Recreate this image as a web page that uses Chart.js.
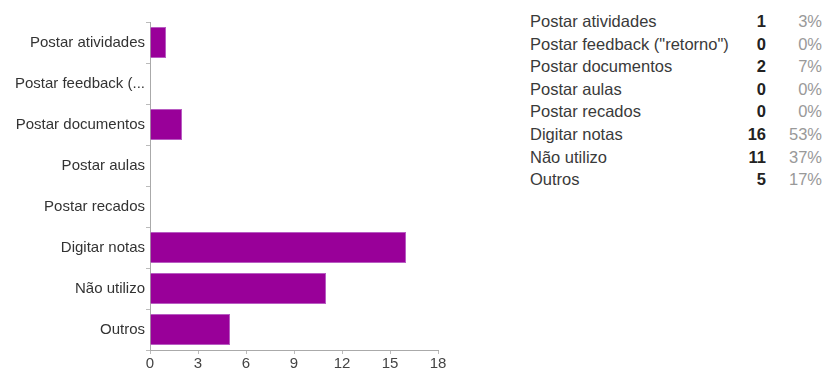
<!DOCTYPE html>
<html>
<head>
<meta charset="utf-8">
<script src="https://cdn.jsdelivr.net/npm/chart.js@4/dist/chart.umd.min.js"></script>
<style>
  html, body { margin: 0; padding: 0; background: #fff; }
  body { width: 825px; height: 374px; position: relative; overflow: hidden;
         font-family: "Liberation Sans", Arial, sans-serif; }
  #chartBox { position: absolute; left: 0; top: 0; width: 450px; height: 374px; }
  #summary { position: absolute; left: 530px; top: 10px; border-collapse: collapse;
             font-size: 16.5px; color: #3a3a3a; }
  #summary td { height: 22.6px; padding: 0; line-height: 22.6px; white-space: nowrap; }
  #summary td.name { width: 205px; }
  #summary td.count { width: 31px; text-align: right; font-weight: bold; color: #222; }
  #summary td.pct { width: 56px; text-align: right; color: #999; }
</style>
</head>
<body>
<div id="chartBox"><canvas id="chart" width="450" height="374"></canvas></div>
<table id="summary"><tbody></tbody></table>
<script>
// Axis labels (shortened as shown beside the bars) and full answer names
const categories = ["Postar atividades", "Postar feedback (...", "Postar documentos", "Postar aulas",
                    "Postar recados", "Digitar notas", "Não utilizo", "Outros"];
const answerNames = ["Postar atividades", "Postar feedback (\"retorno\")", "Postar documentos", "Postar aulas",
                     "Postar recados", "Digitar notas", "Não utilizo", "Outros"];
const counts = [1, 0, 2, 0, 0, 16, 11, 5];
const percents = ["3%", "0%", "7%", "0%", "0%", "53%", "37%", "17%"];
const xTicks = [0, 3, 6, 9, 12, 15, 18];

// Summary table on the right
const tbody = document.querySelector("#summary tbody");
answerNames.forEach((name, i) => {
  const tr = document.createElement("tr");
  tr.innerHTML = `<td class="name"></td><td class="count"></td><td class="pct"></td>`;
  tr.children[0].textContent = name;
  tr.children[1].textContent = counts[i];
  tr.children[2].textContent = percents[i];
  tbody.appendChild(tr);
});

const font = { family: "'Liberation Sans', Arial, sans-serif", size: 15 };

new Chart(document.getElementById("chart"), {
  type: "bar",
  data: {
    labels: categories,
    datasets: [{
      data: counts,
      backgroundColor: "#990099",
      borderColor: "#b85cc2",
      borderWidth: 1,
      barPercentage: 0.76,
      categoryPercentage: 1.0
    }]
  },
  options: {
    indexAxis: "y",
    responsive: false,
    animation: false,
    layout: { padding: { top: 22, right: 12, left: 0, bottom: 0 } },
    plugins: { legend: { display: false }, tooltip: { enabled: false } },
    scales: {
      x: {
        min: 0, max: 18,
        afterBuildTicks(scale) { scale.ticks = xTicks.map(v => ({ value: v })); },
        afterFit(scale) { scale.height = 24; },
        grid: { drawOnChartArea: false, drawTicks: true, tickLength: 4, color: "#bbb" },
        border: { display: true, color: "#aaa" },
        ticks: { color: "#444", font, padding: 1, maxRotation: 0 }
      },
      y: {
        afterFit(scale) { scale.width = 150; },
        grid: { drawOnChartArea: false, drawTicks: true, tickLength: 4, color: "#bbb" },
        border: { display: true, color: "#aaa" },
        ticks: { color: "#333", font, padding: 1, autoSkip: false }
      }
    }
  }
});
</script>
</body>
</html>
